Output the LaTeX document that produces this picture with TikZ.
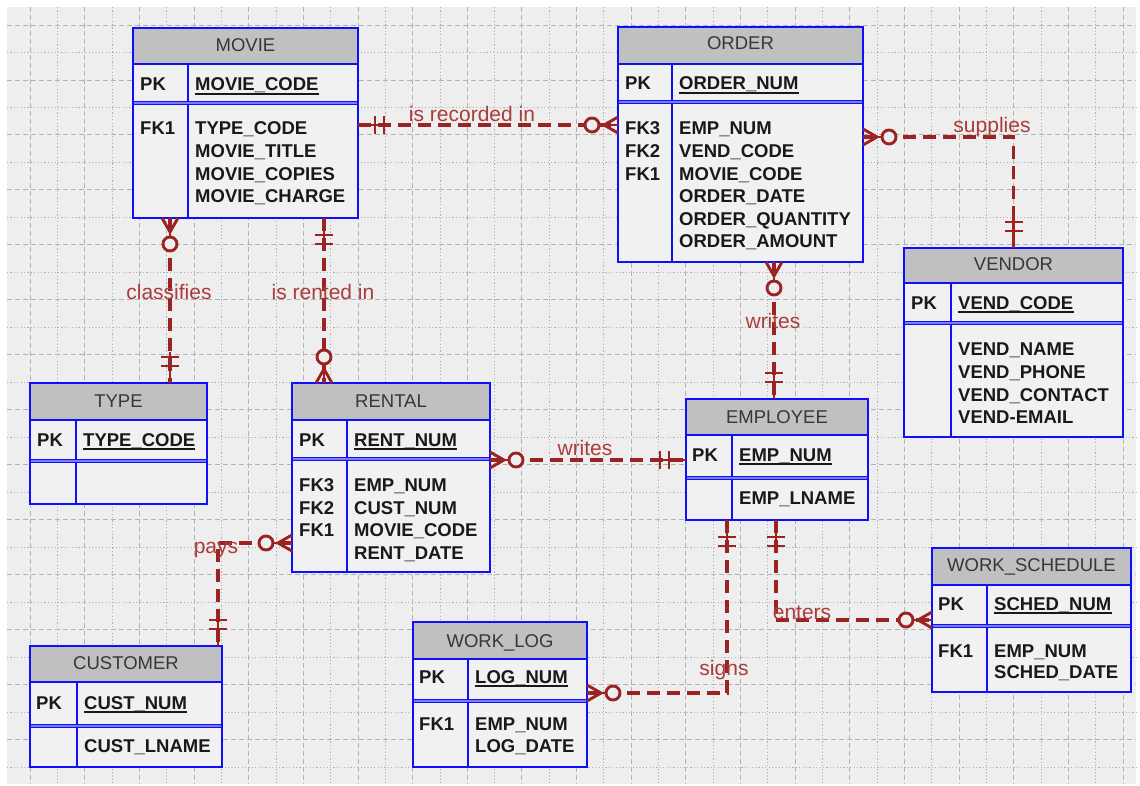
\documentclass[tikz,border=0pt]{standalone}
\usepackage{fontspec}
\setmainfont{Liberation Sans}
\usetikzlibrary{calc}
\definecolor{bgc}{RGB}{238,238,238}
\definecolor{bodyc}{RGB}{241,241,241}
\definecolor{headc}{RGB}{192,192,192}
\definecolor{entblue}{RGB}{15,15,250}
\definecolor{relc}{RGB}{155,35,35}
\definecolor{labc}{RGB}{170,60,60}
\definecolor{gridc}{RGB}{178,178,178}
\definecolor{txtc}{RGB}{25,25,25}
\definecolor{hdrc}{RGB}{55,55,55}
\tikzset{
 entfill/.style={fill=bodyc, inner sep=0, outer sep=0, draw=none},
 entline/.style={draw=entblue, line width=2.4pt},
 pkline/.style={draw=entblue, line width=1.4pt, double=entblue!55!white, double distance=1.6pt},
 hdr/.style={font=\fontsize{18.5}{20}\selectfont, text=hdrc, anchor=base, inner sep=0},
 fld/.style={font=\fontsize{18.5}{20}\selectfont\bfseries, text=txtc, anchor=base west, inner sep=0},
 uline/.style={draw=txtc, line width=1.3pt},
 conn/.style={draw=relc, line width=3.4pt, dash pattern=on 13pt off 7pt},
 connsolid/.style={draw=relc, line width=2.9pt},
 lab/.style={font=\fontsize{21}{23}\selectfont, text=labc, anchor=base, inner sep=0},
 gridA/.style={draw=gridc, line width=0.9pt, dash pattern=on 5pt off 3pt},
 gridB/.style={draw=gridc, line width=0.9pt, dash pattern=on 1.2pt off 2.2pt},
 pics/one/.style={code={
   \draw[connsolid] (0,0) -- (31,0);
   \draw[connsolid] (17,-9) -- (17,9);
   \draw[connsolid] (26,-9) -- (26,9);
 }},
 pics/many/.style={code={
   \draw[connsolid] (0,0) -- (19,0);
   \draw[connsolid, line join=miter] (0,8) -- (14,0) -- (0,-8);
   \draw[connsolid, fill=bgc] (26,0) circle (7);
 }},
}
\newcommand{\ent}[8]{%
 \node[entfill, minimum width={#4-#2}, minimum height={#5-#3}, anchor=north west] (#1) at (#2,#3) {};
 \fill[headc] (#2,#3) rectangle (#4,#6);
 \draw[entline] (#2,#6) -- (#4,#6);
 \draw[entline] (#8,#6) -- (#8,#5);
 \draw[pkline] (#2,#7) -- (#4,#7);
 \draw[entline] (#1.north west) rectangle (#1.south east);
}
\newcommand{\uline}[1]{\draw[uline] ([yshift=-3pt]#1.base west) -- ([yshift=-3pt]#1.base east);}
\begin{document}
\begin{tikzpicture}[x=1pt,y=-1pt]
\useasboundingbox (0,0) rectangle (1140,786);
\fill[white] (0,0) rectangle (1140,786);
\fill[bgc] (7,7) rectangle (1136,784);
% grid
\foreach \i in {0,...,40}{
  \pgfmathsetmacro\xx{30+\i*27.33}
  \ifodd\i\relax \draw[gridB] (\xx,7) -- (\xx,784); \else \draw[gridA] (\xx,7) -- (\xx,784); \fi
}
\foreach \j in {0,...,27}{
  \pgfmathsetmacro\yy{25+\j*27.48}
  \ifodd\j\relax \draw[gridB] (7,\yy) -- (1136,\yy); \else \draw[gridA] (7,\yy) -- (1136,\yy); \fi
}
% MOVIE
\ent{movie}{133}{28}{358}{218}{64}{103}{188}
\node[hdr] (movie-h) at (245.5,52) {MOVIE};
\node[fld] (movie-pk) at (140,91) {PK};
\node[fld] (movie-id) at (195,91) {MOVIE\_CODE}; \uline{movie-id}
\node[fld] (movie-k1) at (140,135) {FK1};
\node[fld] (movie-f1) at (195,135) {TYPE\_CODE};
\node[fld] (movie-f2) at (195,158) {MOVIE\_TITLE};
\node[fld] (movie-f3) at (195,181) {MOVIE\_COPIES};
\node[fld] (movie-f4) at (195,203) {MOVIE\_CHARGE};
% ORDER
\ent{order}{618}{27}{863}{262}{64}{102}{672}
\node[hdr] (order-h) at (740.5,50) {ORDER};
\node[fld] (order-pk) at (625,90) {PK};
\node[fld] (order-id) at (679,90) {ORDER\_NUM}; \uline{order-id}
\node[fld] (order-k3) at (625,135) {FK3};
\node[fld] (order-k2) at (625,157.6) {FK2};
\node[fld] (order-k1) at (625,180.2) {FK1};
\node[fld] (order-f1) at (679,135) {EMP\_NUM};
\node[fld] (order-f2) at (679,157.6) {VEND\_CODE};
\node[fld] (order-f3) at (679,180.2) {MOVIE\_CODE};
\node[fld] (order-f4) at (679,202.8) {ORDER\_DATE};
\node[fld] (order-f5) at (679,225.4) {ORDER\_QUANTITY};
\node[fld] (order-f6) at (679,248) {ORDER\_AMOUNT};
% VENDOR
\ent{vendor}{904}{248}{1123}{437}{283}{323}{951}
\node[hdr] (vendor-h) at (1013.5,271) {VENDOR};
\node[fld] (vendor-pk) at (911,309) {PK};
\node[fld] (vendor-id) at (958,309) {VEND\_CODE}; \uline{vendor-id}
\node[fld] (vendor-f1) at (958,355) {VEND\_NAME};
\node[fld] (vendor-f2) at (958,378) {VEND\_PHONE};
\node[fld] (vendor-f3) at (958,401) {VEND\_CONTACT};
\node[fld] (vendor-f4) at (958,423) {VEND-EMAIL};
% TYPE
\ent{type}{30}{383}{207}{504}{420}{461}{76}
\node[hdr] (type-h) at (118.5,407) {TYPE};
\node[fld] (type-pk) at (37,446) {PK};
\node[fld] (type-id) at (83,446) {TYPE\_CODE}; \uline{type-id}
% RENTAL
\ent{rental}{292}{383}{490}{572}{420}{459}{347}
\node[hdr] (rental-h) at (391,407) {RENTAL};
\node[fld] (rental-pk) at (299,446) {PK};
\node[fld] (rental-id) at (354,446) {RENT\_NUM}; \uline{rental-id}
\node[fld] (rental-k3) at (299,491) {FK3};
\node[fld] (rental-k2) at (299,514) {FK2};
\node[fld] (rental-k1) at (299,536) {FK1};
\node[fld] (rental-f1) at (354,491) {EMP\_NUM};
\node[fld] (rental-f2) at (354,514) {CUST\_NUM};
\node[fld] (rental-f3) at (354,536) {MOVIE\_CODE};
\node[fld] (rental-f4) at (354,559) {RENT\_DATE};
% EMPLOYEE
\ent{employee}{686}{399}{868}{520}{435}{478}{732}
\node[hdr] (employee-h) at (777,423) {EMPLOYEE};
\node[fld] (employee-pk) at (692,461) {PK};
\node[fld] (employee-id) at (739,461) {EMP\_NUM}; \uline{employee-id}
\node[fld] (employee-f1) at (739,504) {EMP\_LNAME};
% CUSTOMER
\ent{customer}{30}{646}{222}{767}{682}{726}{77}
\node[hdr] (customer-h) at (126,669) {CUSTOMER};
\node[fld] (customer-pk) at (36,709) {PK};
\node[fld] (customer-id) at (84,709) {CUST\_NUM}; \uline{customer-id}
\node[fld] (customer-f1) at (84,752) {CUST\_LNAME};
% WORK_LOG
\ent{worklog}{413}{622}{587}{767}{659}{701}{468}
\node[hdr] (worklog-h) at (500,647) {WORK\_LOG};
\node[fld] (worklog-pk) at (419,683) {PK};
\node[fld] (worklog-id) at (475,683) {LOG\_NUM}; \uline{worklog-id}
\node[fld] (worklog-k1) at (419,730) {FK1};
\node[fld] (worklog-f1) at (475,730) {EMP\_NUM};
\node[fld] (worklog-f2) at (475,752) {LOG\_DATE};
% WORK_SCHEDULE
\ent{worksched}{932}{548}{1131}{692}{585}{626}{987}
\node[hdr] (worksched-h) at (1031.5,571) {WORK\_SCHEDULE};
\node[fld] (worksched-pk) at (938,610) {PK};
\node[fld] (worksched-id) at (994,610) {SCHED\_NUM}; \uline{worksched-id}
\node[fld] (worksched-k1) at (938,657) {FK1};
\node[fld] (worksched-f1) at (994,657) {EMP\_NUM};
\node[fld] (worksched-f2) at (994,678) {SCHED\_DATE};
% connectors
\draw[conn] (movie.east |- 0,125) -- (order.west |- 0,125);
\draw[conn] (order.east |- 0,137) -| (vendor.north);
\draw[conn] (movie.south -| 170,0) -- (type.north -| 170,0);
\draw[conn] (movie.south -| 324,0) -- (rental.north -| 324,0);
\draw[conn] (order.south -| 774,0) -- (employee.north -| 774,0);
\draw[conn] (rental.east |- 0,460) -- (employee.west |- 0,460);
\draw[conn] (rental.west |- 0,543) -| (customer.north -| 218,0);
\draw[conn] (employee.south -| 727,0) |- (worklog.east |- 0,693);
\draw[conn] (employee.south -| 776,0) |- (worksched.west |- 0,620);
% ends
\pic at (movie.east |- 0,125) {one};
\pic[rotate=180] at (order.west |- 0,125) {many};
\pic at (order.east |- 0,137) {many};
\pic[rotate=90] at (vendor.north) {one};
\pic[rotate=-90] at (movie.south -| 170,0) {many};
\pic[rotate=90] at (type.north -| 170,0) {one};
\pic[rotate=-90] at (movie.south -| 324,0) {one};
\pic[rotate=90] at (rental.north -| 324,0) {many};
\pic[rotate=-90] at (order.south -| 774,0) {many};
\pic[rotate=90] at (employee.north -| 774,0) {one};
\pic at (rental.east |- 0,460) {many};
\pic[rotate=180] at (employee.west |- 0,460) {one};
\pic[rotate=180] at (rental.west |- 0,543) {many};
\pic[rotate=90] at (customer.north -| 218,0) {one};
\pic[rotate=-90] at (employee.south -| 727,0) {one};
\pic at (worklog.east |- 0,693) {many};
\pic[rotate=-90] at (employee.south -| 776,0) {one};
\pic[rotate=180] at (worksched.west |- 0,620) {many};
% labels
\node[lab] (l1) at (472,122) {is recorded in};
\node[lab] (l2) at (992,133) {supplies};
\node[lab] (l3) at (169,299) {classifies};
\node[lab] (l4) at (323,299) {is rented in};
\node[lab] (l5) at (773,328) {writes};
\node[lab] (l6) at (585,455) {writes};
\node[lab] (l7) at (216,553) {pays};
\node[lab] (l8) at (724,675) {signs};
\node[lab] (l9) at (802,619) {enters};
\end{tikzpicture}
\end{document}
